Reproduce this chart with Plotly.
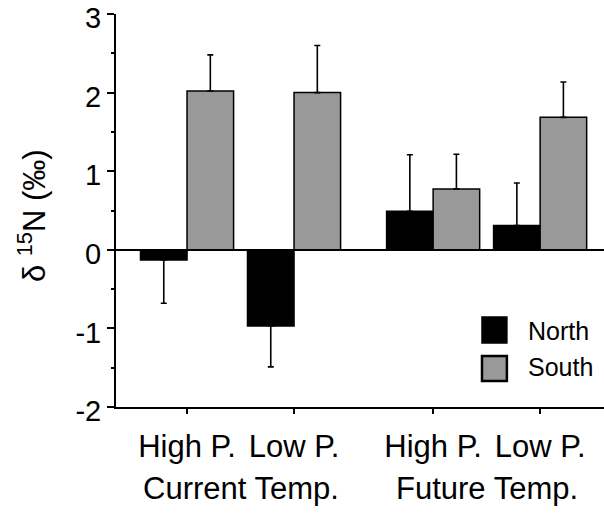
import plotly.graph_objects as go

# ---- data ----
conditions = ["High P.", "Low P.", "High P.", "Low P."]
temps = ["Current Temp.", "Future Temp."]
positions = [0, 1, 2.3, 3.3]
temp_centers = [0.5, 2.8]
north = [-0.13, -0.97, 0.49, 0.31]
north_err = [0.55, 0.52, 0.72, 0.54]
south = [2.02, 2.00, 0.775, 1.685]
south_err = [0.46, 0.60, 0.44, 0.45]
y_ticks = [-2, -1, 0, 1, 2, 3]
y_ticktext = ["-2", "-1", "0", "1", "2", "3"]

FONT = "Arial, Liberation Sans, sans-serif"
FS = 31
W = 0.435

def one_sided(vals, errs):
    up = [e if v >= 0 else 0 for v, e in zip(vals, errs)]
    dn = [e if v < 0 else 0 for v, e in zip(vals, errs)]
    return up, dn

nu, nd = one_sided(north, north_err)
su, sd = one_sided(south, south_err)

fig = go.Figure()
fig.add_trace(go.Bar(
    x=positions, y=north, width=W, offset=-W, name="North",
    marker=dict(color="black", line=dict(color="black", width=1.5)),
    error_y=dict(type="data", symmetric=False, array=nu, arrayminus=nd,
                 color="black", thickness=1.6, width=3),
    showlegend=False))
fig.add_trace(go.Bar(
    x=positions, y=south, width=W, offset=0, name="South",
    marker=dict(color="#999999", line=dict(color="black", width=1.5)),
    error_y=dict(type="data", symmetric=False, array=su, arrayminus=sd,
                 color="black", thickness=1.6, width=3),
    showlegend=False))

fig.update_layout(
    width=604, height=513,
    margin=dict(l=116, r=0, t=14, b=106),
    paper_bgcolor="white", plot_bgcolor="white",
    font=dict(family=FONT, size=FS, color="black"),
    barmode="overlay",
    xaxis=dict(range=[-0.664, 3.897], tickvals=positions, ticktext=conditions,
               showline=True, linecolor="black", linewidth=2,
               ticks="outside", ticklen=5, tickwidth=1.5, tickcolor="black",
               ticklabelstandoff=6,
               showgrid=False, zeroline=False, automargin=False,
               tickfont=dict(family=FONT, size=FS, color="black")),
    yaxis=dict(range=[-2, 3], tickvals=y_ticks, ticktext=y_ticktext,
               showline=True, linecolor="black", linewidth=2,
               ticks="outside", ticklen=7, tickwidth=1.5, tickcolor="black",
               ticklabeloverflow="allow", ticklabelshift=4,
               minor=dict(ticks="outside", ticklen=3, tickwidth=1.5,
                          tickcolor="black", dtick=0.5, showgrid=False),
               showgrid=False, zeroline=True, zerolinecolor="black",
               zerolinewidth=1.5, automargin=False,
               tickfont=dict(family=FONT, size=29, color="black")),
)

# group labels
for xc, t in zip(temp_centers, temps):
    fig.add_annotation(x=xc, xref="x", y=-0.2074, yref="paper",
                       xanchor="center", yanchor="middle",
                       text=t, showarrow=False,
                       font=dict(family=FONT, size=FS, color="black"))

# y-axis title
fig.add_annotation(x=-0.172, xref="paper", y=0.486, yref="paper",
                   xanchor="center", yanchor="middle",
                   text="δ <sup>15</sup>N (‰)", textangle=-90, showarrow=False,
                   font=dict(family=FONT, size=FS, color="black"))

# legend (drawn manually)
fig.add_shape(type="rect", xref="paper", yref="paper",
              x0=0.75, x1=0.801, y0=0.163, y1=0.229,
              fillcolor="black", line=dict(color="black", width=1.5))
fig.add_shape(type="rect", xref="paper", yref="paper",
              x0=0.75, x1=0.801, y0=0.066, y1=0.130,
              fillcolor="#999999", line=dict(color="black", width=2.5))
fig.add_annotation(x=0.84, xref="paper", y=0.193, yref="paper",
                   text="North", showarrow=False, xanchor="left", yanchor="middle",
                   font=dict(family=FONT, size=25, color="black"))
fig.add_annotation(x=0.84, xref="paper", y=0.102, yref="paper",
                   text="South", showarrow=False, xanchor="left", yanchor="middle",
                   font=dict(family=FONT, size=25, color="black"))

fig.write_html("out.html")
